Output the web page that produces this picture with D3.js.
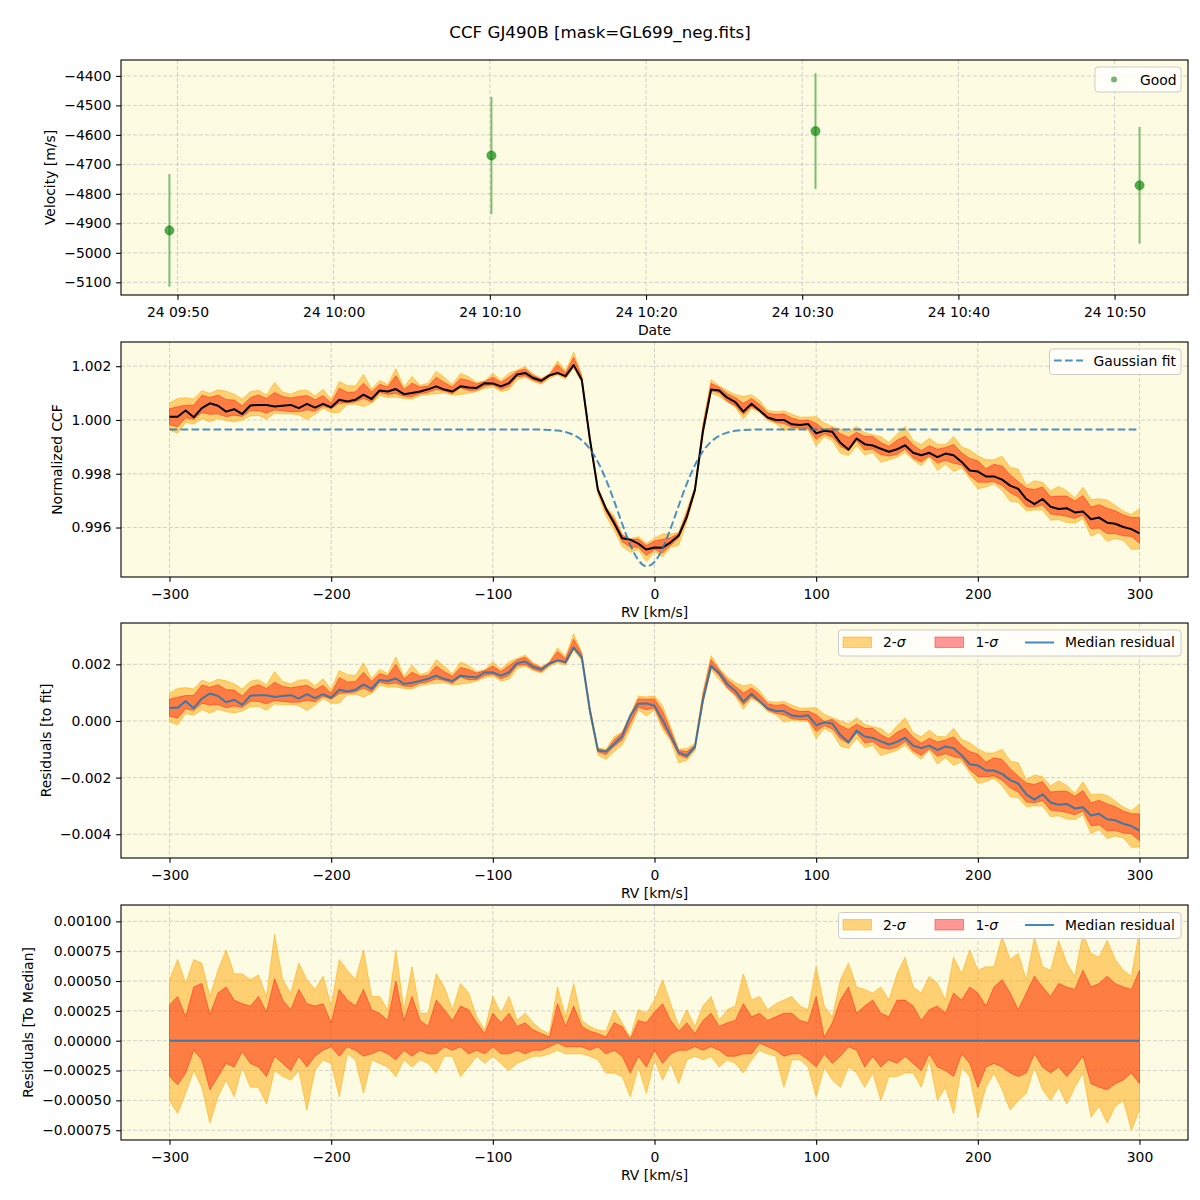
<!DOCTYPE html>
<html>
<head>
<meta charset="utf-8">
<script src="https://cdn.jsdelivr.net/npm/d3@7"></script>
<style>
  body { margin: 0; background: #ffffff; }
  svg { display: block; }
  text { font-family: "DejaVu Sans", sans-serif; fill: #000; }
</style>
</head>
<body>
<div id="chart"></div>
<script>
// ---------------- DATA ----------------
// Panel 1: velocities per observation
const obsTimes = ["2023-04-24T09:49:29Z", "2023-04-24T10:10:06Z", "2023-04-24T10:30:51Z", "2023-04-24T10:51:36Z"];
const obsVelocity = [-4924, -4670, -4587, -4771];
const obsError = [191, 199, 196, 198];
const dateTicks = ["2023-04-24T09:50:00Z", "2023-04-24T10:00:00Z", "2023-04-24T10:10:00Z", "2023-04-24T10:20:00Z",
                   "2023-04-24T10:30:00Z", "2023-04-24T10:40:00Z", "2023-04-24T10:50:00Z"];
const velocityTicks = [-5100, -5000, -4900, -4800, -4700, -4600, -4500, -4400];

// RV grid [km/s]
const rvGrid = [
  -300,-295,-290,-285,-280,-275,-270,-265,-260,-255,
  -250,-245,-240,-235,-230,-225,-220,-215,-210,-205,
  -200,-195,-190,-185,-180,-175,-170,-165,-160,-155,
  -150,-145,-140,-135,-130,-125,-120,-115,-110,-105,
  -100,-95,-90,-85,-80,-75,-70,-65,-60,-55,
  -50,-45,-40,-35,-30,-25,-20,-15,-10,-5,
  0,5,10,15,20,25,30,35,40,45,
  50,55,60,65,70,75,80,85,90,95,
  100,105,110,115,120,125,130,135,140,145,
  150,155,160,165,170,175,180,185,190,195,
  200,205,210,215,220,225,230,235,240,245,
  250,255,260,265,270,275,280,285,290,295,
  300];

// Median normalized CCF
const ccfMedian = [
  1.00012,1.00012,1.00035,1.00010,1.00044,1.00062,1.00053,1.00031,1.00040,1.00022,
  1.00054,1.00056,1.00056,1.00050,1.00053,1.00056,1.00044,1.00060,1.00046,1.00060,
  1.00047,1.00075,1.00069,1.00075,1.00094,1.00078,1.00110,1.00106,1.00115,1.00096,
  1.00100,1.00106,1.00114,1.00125,1.00113,1.00106,1.00125,1.00121,1.00119,1.00137,
  1.00136,1.00125,1.00137,1.00169,1.00175,1.00156,1.00146,1.00166,1.00175,1.00163,
  1.00204,1.00150,0.99930,0.99740,0.99670,0.99617,0.99560,0.99555,0.99540,0.99518,
  0.99526,0.99525,0.99545,0.99570,0.99640,0.99740,0.99960,1.00113,1.00110,1.00083,
  1.00066,1.00031,1.00060,1.00035,1.00009,1.00000,1.00000,0.99984,0.99981,0.99985,
  0.99950,0.99960,0.99956,0.99915,0.99890,0.99931,0.99910,0.99905,0.99893,0.99882,
  0.99891,0.99906,0.99878,0.99869,0.99878,0.99862,0.99875,0.99869,0.99844,0.99812,
  0.99808,0.99790,0.99790,0.99778,0.99756,0.99744,0.99706,0.99687,0.99706,0.99677,
  0.99669,0.99672,0.99656,0.99660,0.99631,0.99637,0.99618,0.99614,0.99602,0.99594,
  0.99578];

// Gaussian fit evaluated on the RV grid
const gaussFit = [
  0.99965,0.99965,0.99965,0.99965,0.99965,0.99965,0.99965,0.99965,0.99965,0.99965,
  0.99965,0.99965,0.99965,0.99965,0.99965,0.99965,0.99965,0.99965,0.99965,0.99965,
  0.99965,0.99965,0.99965,0.99965,0.99965,0.99965,0.99965,0.99965,0.99965,0.99965,
  0.99965,0.99965,0.99965,0.99965,0.99965,0.99965,0.99965,0.99965,0.99965,0.99965,
  0.99965,0.99965,0.99965,0.99965,0.99965,0.99965,0.99964,0.99963,0.99961,0.99955,
  0.99944,0.99925,0.99892,0.99844,0.99778,0.99699,0.99614,0.99536,0.99479,0.99456,
  0.99472,0.99522,0.99597,0.99682,0.99763,0.99832,0.99884,0.99919,0.99941,0.99953,
  0.99960,0.99963,0.99964,0.99965,0.99965,0.99965,0.99965,0.99965,0.99965,0.99965,
  0.99965,0.99965,0.99965,0.99965,0.99965,0.99965,0.99965,0.99965,0.99965,0.99965,
  0.99965,0.99965,0.99965,0.99965,0.99965,0.99965,0.99965,0.99965,0.99965,0.99965,
  0.99965,0.99965,0.99965,0.99965,0.99965,0.99965,0.99965,0.99965,0.99965,0.99965,
  0.99965,0.99965,0.99965,0.99965,0.99965,0.99965,0.99965,0.99965,0.99965,0.99965,
  0.99965];

// Quantile offsets relative to the median (upper/lower 2-sigma and 1-sigma)
const sigma2Up = [
  0.00051,0.00068,0.00048,0.00068,0.00065,0.00037,0.00059,0.00076,0.00056,0.00056,
  0.00051,0.00055,0.00037,0.00089,0.00051,0.00040,0.00065,0.00051,0.00043,0.00054,
  0.00029,0.00068,0.00059,0.00051,0.00076,0.00037,0.00037,0.00026,0.00076,0.00026,
  0.00062,0.00023,0.00023,0.00056,0.00045,0.00026,0.00048,0.00040,0.00020,0.00009,
  0.00037,0.00023,0.00037,0.00017,0.00023,0.00015,0.00009,0.00006,0.00045,0.00020,
  0.00048,0.00017,0.00012,0.00009,0.00008,0.00026,0.00015,0.00003,0.00026,0.00023,
  0.00034,0.00051,0.00031,0.00012,0.00026,0.00012,0.00029,0.00037,0.00017,0.00026,
  0.00029,0.00056,0.00034,0.00037,0.00026,0.00031,0.00034,0.00037,0.00029,0.00026,
  0.00062,0.00029,0.00020,0.00051,0.00065,0.00045,0.00043,0.00040,0.00045,0.00034,
  0.00056,0.00070,0.00045,0.00040,0.00054,0.00048,0.00034,0.00070,0.00056,0.00076,
  0.00059,0.00062,0.00062,0.00087,0.00068,0.00073,0.00051,0.00087,0.00062,0.00059,
  0.00084,0.00065,0.00054,0.00090,0.00073,0.00070,0.00084,0.00068,0.00059,0.00054,
  0.00093];
const sigma1Up = [
  0.00030,0.00037,0.00020,0.00045,0.00048,0.00022,0.00040,0.00045,0.00034,0.00031,
  0.00029,0.00037,0.00024,0.00052,0.00034,0.00026,0.00043,0.00031,0.00029,0.00031,
  0.00015,0.00043,0.00034,0.00029,0.00043,0.00026,0.00023,0.00017,0.00050,0.00017,
  0.00037,0.00017,0.00012,0.00034,0.00026,0.00017,0.00029,0.00026,0.00015,0.00006,
  0.00023,0.00015,0.00023,0.00012,0.00015,0.00009,0.00006,0.00003,0.00031,0.00012,
  0.00029,0.00012,0.00008,0.00006,0.00003,0.00015,0.00012,0.00001,0.00017,0.00015,
  0.00024,0.00031,0.00017,0.00008,0.00015,0.00006,0.00017,0.00023,0.00012,0.00015,
  0.00017,0.00031,0.00020,0.00023,0.00017,0.00020,0.00023,0.00023,0.00017,0.00015,
  0.00037,0.00003,0.00015,0.00034,0.00045,0.00023,0.00029,0.00034,0.00023,0.00020,
  0.00034,0.00034,0.00029,0.00017,0.00026,0.00029,0.00023,0.00040,0.00034,0.00045,
  0.00040,0.00029,0.00045,0.00051,0.00040,0.00026,0.00040,0.00054,0.00045,0.00037,
  0.00048,0.00045,0.00043,0.00059,0.00045,0.00048,0.00054,0.00048,0.00045,0.00043,
  0.00059];
const sigma1Low = [
  -0.00030,-0.00037,-0.00027,-0.00008,-0.00016,-0.00041,-0.00030,-0.00019,-0.00022,-0.00009,
  -0.00019,-0.00022,-0.00030,-0.00013,-0.00019,-0.00025,-0.00013,-0.00022,-0.00013,-0.00008,
  -0.00005,-0.00013,-0.00005,-0.00008,-0.00013,-0.00011,-0.00008,-0.00011,-0.00016,-0.00008,
  -0.00013,-0.00008,-0.00011,-0.00011,-0.00005,-0.00008,-0.00005,-0.00011,-0.00008,-0.00011,
  -0.00005,-0.00011,-0.00011,-0.00008,-0.00011,-0.00008,-0.00008,-0.00005,-0.00002,-0.00005,
  -0.00005,-0.00005,-0.00008,-0.00005,-0.00011,-0.00008,-0.00013,-0.00027,-0.00013,-0.00022,
  -0.00008,-0.00019,-0.00011,-0.00008,-0.00008,-0.00005,-0.00008,-0.00005,-0.00008,-0.00013,
  -0.00013,-0.00011,-0.00011,-0.00002,-0.00005,-0.00008,-0.00013,-0.00011,-0.00011,-0.00016,
  -0.00022,-0.00011,-0.00019,-0.00013,-0.00005,-0.00008,-0.00022,-0.00013,-0.00022,-0.00016,
  -0.00019,-0.00013,-0.00019,-0.00025,-0.00011,-0.00022,-0.00025,-0.00030,-0.00011,-0.00019,
  -0.00039,-0.00022,-0.00019,-0.00022,-0.00027,-0.00030,-0.00027,-0.00011,-0.00022,-0.00027,
  -0.00022,-0.00030,-0.00022,-0.00013,-0.00036,-0.00039,-0.00041,-0.00036,-0.00033,-0.00027,
  -0.00036];
const sigma2Low = [
  -0.00050,-0.00061,-0.00044,-0.00025,-0.00039,-0.00069,-0.00047,-0.00033,-0.00047,-0.00022,
  -0.00039,-0.00039,-0.00053,-0.00025,-0.00030,-0.00033,-0.00025,-0.00058,-0.00025,-0.00016,
  -0.00019,-0.00047,-0.00011,-0.00016,-0.00044,-0.00016,-0.00019,-0.00022,-0.00030,-0.00016,
  -0.00022,-0.00016,-0.00019,-0.00027,-0.00013,-0.00013,-0.00030,-0.00022,-0.00013,-0.00019,
  -0.00013,-0.00019,-0.00025,-0.00019,-0.00016,-0.00013,-0.00013,-0.00011,-0.00008,-0.00011,
  -0.00011,-0.00011,-0.00013,-0.00016,-0.00027,-0.00027,-0.00030,-0.00047,-0.00022,-0.00044,
  -0.00016,-0.00033,-0.00019,-0.00036,-0.00016,-0.00013,-0.00016,-0.00013,-0.00022,-0.00016,
  -0.00019,-0.00027,-0.00016,-0.00008,-0.00011,-0.00013,-0.00039,-0.00016,-0.00016,-0.00022,
  -0.00047,-0.00022,-0.00033,-0.00039,-0.00022,-0.00027,-0.00039,-0.00027,-0.00050,-0.00030,
  -0.00030,-0.00027,-0.00027,-0.00039,-0.00016,-0.00050,-0.00039,-0.00061,-0.00022,-0.00030,
  -0.00064,-0.00039,-0.00027,-0.00041,-0.00058,-0.00050,-0.00044,-0.00022,-0.00041,-0.00050,
  -0.00039,-0.00053,-0.00039,-0.00027,-0.00064,-0.00055,-0.00069,-0.00055,-0.00050,-0.00075,
  -0.00058];

const rvTicks = [-300, -200, -100, 0, 100, 200, 300];
const ccfTicks = [0.996, 0.998, 1.000, 1.002];
const residTicks = [-0.004, -0.002, 0.000, 0.002];
const medianTicks = [-0.00075, -0.0005, -0.00025, 0, 0.00025, 0.0005, 0.00075, 0.001];

// ---------------- LAYOUT ----------------
const W = 1200, H = 1200;
const L = 121, R = 1188, PH = 235;
const TOPS = [60, 342, 623, 905];
const BG = "#fdfbe2";
const FS = 13.9;
const TICK = 4.86;

const svg = d3.select("#chart").append("svg").attr("width", W).attr("height", H);
svg.append("rect").attr("width", W).attr("height", H).attr("fill", "#fff");

const defs = svg.append("defs");
function makePanel(i) {
  const top = TOPS[i];
  defs.append("clipPath").attr("id", "clip" + i)
    .append("rect").attr("x", L).attr("y", top).attr("width", R - L).attr("height", PH);
  svg.append("rect").attr("x", L).attr("y", top).attr("width", R - L).attr("height", PH).attr("fill", BG);
  const grid = svg.append("g");
  const plot = svg.append("g").attr("clip-path", `url(#clip${i})`);
  return { top, bottom: top + PH, grid, plot };
}

function gridLines(p, xs, ys) {
  xs.forEach(x => p.grid.append("line").attr("x1", x).attr("x2", x).attr("y1", p.top).attr("y2", p.bottom)
    .attr("stroke", "#b0b0b0").attr("stroke-opacity", 0.55).attr("stroke-width", 1).attr("stroke-dasharray", "4,2"));
  ys.forEach(y => p.grid.append("line").attr("x1", L).attr("x2", R).attr("y1", y).attr("y2", y)
    .attr("stroke", "#b0b0b0").attr("stroke-opacity", 0.55).attr("stroke-width", 1).attr("stroke-dasharray", "4,2"));
}

function frame(p, xAxisGen, yAxisGen, xLabel, yLabel, yLabelX) {
  svg.append("rect").attr("x", L).attr("y", p.top).attr("width", R - L).attr("height", PH)
    .attr("fill", "none").attr("stroke", "#000").attr("stroke-width", 1.1);
  const gx = svg.append("g").attr("transform", `translate(0,${p.bottom})`).call(xAxisGen);
  const gy = svg.append("g").attr("transform", `translate(${L},0)`).call(yAxisGen);
  [gx, gy].forEach(g => {
    g.select(".domain").remove();
    g.selectAll(".tick line").attr("stroke", "#000").attr("stroke-width", 1.1);
    g.selectAll(".tick text").attr("font-family", "DejaVu Sans").attr("font-size", FS).attr("fill", "#000");
  });
  gx.attr("font-family", null).attr("font-size", null);
  gy.attr("font-family", null).attr("font-size", null);
  svg.append("text").attr("x", (L + R) / 2).attr("y", p.bottom + 40).attr("text-anchor", "middle")
    .attr("font-size", FS).text(xLabel);
  svg.append("text").attr("transform", `translate(${yLabelX},${p.top + PH / 2}) rotate(-90)`)
    .attr("text-anchor", "middle").attr("dy", "0.35em").attr("font-size", FS).text(yLabel);
}

function legendBox(x, y, w, h) {
  svg.append("rect").attr("x", x).attr("y", y).attr("width", w).attr("height", h).attr("rx", 3)
    .attr("fill", "#fff").attr("fill-opacity", 0.8).attr("stroke", "#cccccc").attr("stroke-width", 1);
}

// Title
svg.append("text").attr("x", 600).attr("y", 38).attr("text-anchor", "middle").attr("font-size", 16.7)
  .text("CCF GJ490B [mask=GL699_neg.fits]");

// ---------------- PANEL 1 ----------------
{
  const p = makePanel(0);
  const times = obsTimes.map(d => new Date(d));
  const ticksT = dateTicks.map(d => new Date(d));
  const x = d3.scaleUtc().domain([new Date("2023-04-24T09:46:23Z"), new Date("2023-04-24T10:54:42Z")]).range([L, R]);
  const y = d3.scaleLinear().domain([-5143, -4346]).range([p.bottom, p.top]);
  gridLines(p, ticksT.map(x), velocityTicks.map(y));
  const pts = times.map((t, i) => ({ t, v: obsVelocity[i], e: obsError[i] }));
  p.plot.selectAll("line.err").data(pts).join("line").attr("class", "err")
    .attr("x1", d => x(d.t)).attr("x2", d => x(d.t))
    .attr("y1", d => y(d.v - d.e)).attr("y2", d => y(d.v + d.e))
    .attr("stroke", "green").attr("stroke-opacity", 0.5).attr("stroke-width", 2);
  p.plot.selectAll("circle.pt").data(pts).join("circle").attr("class", "pt")
    .attr("cx", d => x(d.t)).attr("cy", d => y(d.v)).attr("r", 4.6)
    .attr("fill", "green").attr("fill-opacity", 0.65)
    .attr("stroke", "green").attr("stroke-opacity", 0.4).attr("stroke-width", 1);
  frame(p,
    d3.axisBottom(x).tickValues(ticksT).tickFormat(d3.utcFormat("%d %H:%M")).tickSize(TICK).tickPadding(6.8),
    d3.axisLeft(y).tickValues(velocityTicks).tickFormat(d3.format("d")).tickSize(TICK).tickPadding(TICK),
    "Date", "Velocity [m/s]", 50);
  legendBox(1095, 67, 86, 25);
  svg.append("circle").attr("cx", 1114).attr("cy", 79.5).attr("r", 3).attr("fill", "green").attr("fill-opacity", 0.55);
  svg.append("text").attr("x", 1140).attr("y", 84.5).attr("font-size", FS).text("Good");
}

// ---------------- RV PANELS ----------------
const rows = rvGrid.map((v, i) => ({
  rv: v, ccf: ccfMedian[i], fit: gaussFit[i],
  u2: sigma2Up[i], u1: sigma1Up[i], l1: sigma1Low[i], l2: sigma2Low[i]
}));
const xRV = d3.scaleLinear().domain([-330, 330]).range([L, R]);

function bandPanel(idx, domain, ticks, fmt, base, yLabel, yLabelX, lineColor, lineOpacity, withFit) {
  const p = makePanel(idx);
  const y = d3.scaleLinear().domain(domain).range([p.bottom, p.top]);
  gridLines(p, rvTicks.map(xRV), ticks.map(y));
  const a2 = d3.area().x(d => xRV(d.rv)).y0(d => y(base(d) + d.l2)).y1(d => y(base(d) + d.u2));
  const a1 = d3.area().x(d => xRV(d.rv)).y0(d => y(base(d) + d.l1)).y1(d => y(base(d) + d.u1));
  p.plot.append("path").datum(rows).attr("d", a2)
    .attr("fill", "orange").attr("fill-opacity", 0.5)
    .attr("stroke", "orange").attr("stroke-opacity", 0.5).attr("stroke-width", 1);
  p.plot.append("path").datum(rows).attr("d", a1)
    .attr("fill", "red").attr("fill-opacity", 0.4)
    .attr("stroke", "red").attr("stroke-opacity", 0.4).attr("stroke-width", 1);
  p.plot.append("path").datum(rows)
    .attr("d", d3.line().x(d => xRV(d.rv)).y(d => y(base(d))))
    .attr("fill", "none").attr("stroke", lineColor).attr("stroke-opacity", lineOpacity)
    .attr("stroke-width", 2).attr("stroke-linejoin", "round");
  if (withFit) {
    p.plot.append("path").datum(rows)
      .attr("d", d3.line().curve(d3.curveMonotoneX).x(d => xRV(d.rv)).y(d => y(d.fit)))
      .attr("fill", "none").attr("stroke", "#1f77b4").attr("stroke-opacity", 0.8)
      .attr("stroke-width", 2).attr("stroke-dasharray", "7.7,3.3");
  }
  frame(p,
    d3.axisBottom(xRV).tickValues(rvTicks).tickFormat(d3.format("d")).tickSize(TICK).tickPadding(6.8),
    d3.axisLeft(y).tickValues(ticks).tickFormat(fmt).tickSize(TICK).tickPadding(TICK),
    "RV [km/s]", yLabel, yLabelX);
  return p;
}

// Panel 2: normalized CCF
{
  bandPanel(1, [0.99416, 1.0029], ccfTicks, d3.format(".3f"), d => d.ccf,
    "Normalized CCF", 57, "#000", 1, true);
  legendBox(1049.5, 349, 131.5, 25.5);
  svg.append("line").attr("x1", 1054).attr("x2", 1083).attr("y1", 360.5).attr("y2", 360.5)
    .attr("stroke", "#1f77b4").attr("stroke-opacity", 0.8).attr("stroke-width", 2).attr("stroke-dasharray", "7.7,3.3");
  svg.append("text").attr("x", 1093.5).attr("y", 365.5).attr("font-size", FS).text("Gaussian fit");
}

function sigmaLegend(y0) {
  legendBox(838.5, y0, 342.5, 26);
  svg.append("rect").attr("x", 843).attr("y", y0 + 7).attr("width", 28.5).attr("height", 10.5)
    .attr("fill", "orange").attr("fill-opacity", 0.5).attr("stroke", "orange").attr("stroke-opacity", 0.5);
  const t1 = svg.append("text").attr("x", 883).attr("y", y0 + 17).attr("font-size", FS);
  t1.append("tspan").text("2-");
  t1.append("tspan").attr("font-style", "italic").text("σ");
  svg.append("rect").attr("x", 935).attr("y", y0 + 7).attr("width", 28.5).attr("height", 10.5)
    .attr("fill", "red").attr("fill-opacity", 0.4).attr("stroke", "red").attr("stroke-opacity", 0.4);
  const t2 = svg.append("text").attr("x", 975.5).attr("y", y0 + 17).attr("font-size", FS);
  t2.append("tspan").text("1-");
  t2.append("tspan").attr("font-style", "italic").text("σ");
  svg.append("line").attr("x1", 1025).attr("x2", 1054).attr("y1", y0 + 12.5).attr("y2", y0 + 12.5)
    .attr("stroke", "#1f77b4").attr("stroke-opacity", 0.85).attr("stroke-width", 2);
  svg.append("text").attr("x", 1065).attr("y", y0 + 17).attr("font-size", FS).text("Median residual");
}

// Panel 3: residuals to fit
{
  bandPanel(2, [-0.00484, 0.00346], residTicks, d3.format(".3f"), d => d.ccf - d.fit,
    "Residuals [to fit]", 46, "#1f77b4", 0.85, false);
  sigmaLegend(630);
}

// Panel 4: residuals to median
{
  bandPanel(3, [-0.000832, 0.001137], medianTicks, d3.format(".5f"), d => 0,
    "Residuals [To Median]", 28, "#1f77b4", 0.85, false);
  sigmaLegend(912.5);
}
</script>
</body>
</html>
